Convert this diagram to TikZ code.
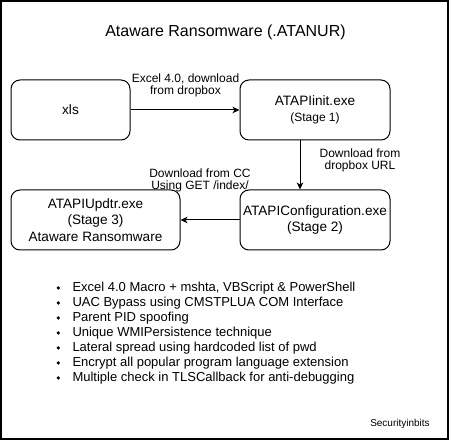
\documentclass[tikz,border=0pt]{standalone}
\usepackage{fontspec}
\setmainfont{Liberation Sans}
\usetikzlibrary{arrows.meta}

\begin{document}
\begin{tikzpicture}[x=1pt,y=-1pt,>={Stealth[length=7pt,width=6.5pt,inset=2pt]},
  box/.style={draw,line width=1pt,rounded corners=9pt,minimum height=60pt,inner sep=0pt,align=center,font=\fontsize{13.6}{16.5}\selectfont},
  lbl/.style={align=center,inner sep=0pt,font=\fontsize{12}{12}\selectfont}]
\useasboundingbox (0,0) rectangle (451,441);
\draw[line width=2pt] (1,1) rectangle (448,439);
\node[anchor=base,inner sep=0pt,font=\fontsize{16}{19}\selectfont] (title) at (225.5,36.7) {Ataware Ransomware (.ATANUR)};

% stages
\node[box,minimum width=119pt] (xls) at (70.5,110) {xls};
\node[box,minimum width=150pt] (init) at (315,110) {ATAPIinit.exe\\{\fontsize{12}{14}\selectfont(Stage 1)}};
\node[box,minimum width=150pt] (conf) at (315,220) {ATAPIConfiguration.exe\\(Stage 2)};
\node[box,minimum width=169pt] (upd) at (95.5,220) {ATAPIUpdtr.exe\\(Stage 3)\\Ataware Ransomware};

\draw[->,line width=1pt] (xls) -- (init);
\draw[->,line width=1pt] ([xshift=-15pt]init.south) -- ([xshift=-15pt]conf.north);
\draw[->,line width=1pt] (conf) -- (upd);

\node[lbl] (l1) at (185.5,85.4) {Excel 4.0, download\\from dropbox};
\node[lbl] (l2) at (360,160.2) {Download from\\dropbox URL};
\node[lbl] (l3) at (200,180.6) {Download from CC\\Using GET /index/};

% features
\foreach \t [count=\i] in {{Excel 4.0 Macro + mshta, VBScript \& PowerShell},
  {UAC Bypass using CMSTPLUA COM Interface},{Parent PID spoofing},
  {Unique WMIPersistence technique},{Lateral spread using hardcoded list of pwd},
  {Encrypt all popular program language extension},{Multiple check in TLSCallback for anti-debugging}} {
  \fill (58.3,273+15*\i) circle (1.8pt);
  \node[anchor=base west,inner sep=0pt,font=\fontsize{13}{15}\selectfont] (f\i) at (72.3,276.7+15*\i) {\t};
}

\node[anchor=base,inner sep=0pt,font=\fontsize{10}{12}\selectfont] (sig) at (400,427) {Securityinbits};
\end{tikzpicture}
\end{document}
